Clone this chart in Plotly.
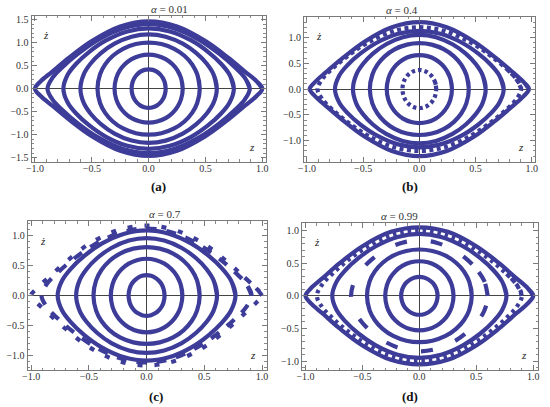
import plotly.graph_objects as go

# ---------------- data (first-quadrant points of each orbit) -------------
TITLES = ["0.01", "0.4", "0.7", "0.99"]
CAPTIONS = ["(a)", "(b)", "(c)", "(d)"]

# panel (a) alpha = 0.01
A_Z = [
    [0.15, 0.1425, 0.1275, 0.105, 0.075, 0.0375, 0.0],
    [0.30, 0.285, 0.255, 0.21, 0.15, 0.075, 0.0],
    [0.45, 0.4275, 0.3825, 0.315, 0.225, 0.1125, 0.0],
    [0.60, 0.57, 0.51, 0.42, 0.30, 0.15, 0.0],
    [0.75, 0.7125, 0.6375, 0.525, 0.375, 0.1875, 0.0],
    [0.89, 0.8455, 0.7565, 0.623, 0.445, 0.2225, 0.0],
    [1.00, 0.95, 0.85, 0.70, 0.50, 0.25, 0.0],
]
A_ZD = [
    [0.0, 0.131, 0.221, 0.300, 0.364, 0.407, 0.42],
    [0.0, 0.231, 0.39, 0.528, 0.641, 0.716, 0.74],
    [0.0, 0.312, 0.527, 0.714, 0.866, 0.968, 1.0],
    [0.0, 0.316, 0.545, 0.771, 0.977, 1.129, 1.18],
    [0.0, 0.301, 0.541, 0.795, 1.047, 1.243, 1.31],
    [0.0, 0.238, 0.47, 0.755, 1.06, 1.313, 1.40],
    [0.0, 0.16, 0.365, 0.672, 1.032, 1.349, 1.46],
]

# panel (b) alpha = 0.4
B_Z = [
    [0.15, 0.1425, 0.1275, 0.105, 0.075, 0.0375, 0.0],
    [0.29, 0.2755, 0.2465, 0.203, 0.145, 0.0725, 0.0],
    [0.44, 0.418, 0.374, 0.308, 0.22, 0.11, 0.0],
    [0.59, 0.5605, 0.5015, 0.413, 0.295, 0.1475, 0.0],
    [0.75, 0.7125, 0.6375, 0.525, 0.375, 0.1875, 0.0],
    [0.905, 0.86, 0.769, 0.6335, 0.4525, 0.226, 0.0],
    [0.975, 0.926, 0.829, 0.6825, 0.4875, 0.244, 0.0],
]
B_ZD = [
    [0.0, 0.115, 0.195, 0.264, 0.32, 0.358, 0.37],
    [0.0, 0.206, 0.348, 0.471, 0.572, 0.639, 0.66],
    [0.0, 0.278, 0.469, 0.635, 0.771, 0.862, 0.89],
    [0.0, 0.281, 0.485, 0.686, 0.869, 1.005, 1.05],
    [0.0, 0.26, 0.467, 0.686, 0.903, 1.072, 1.13],
    [0.0, 0.204, 0.403, 0.647, 0.908, 1.126, 1.20],
    [0.0, 0.14, 0.33, 0.6, 0.92, 1.2, 1.30],
]

# panel (c) alpha = 0.7
C_Z = [
    [0.156, 0.148, 0.133, 0.109, 0.078, 0.039, 0.0],
    [0.31, 0.2945, 0.2635, 0.217, 0.155, 0.0775, 0.0],
    [0.46, 0.437, 0.391, 0.322, 0.23, 0.115, 0.0],
    [0.61, 0.5795, 0.5185, 0.427, 0.305, 0.1525, 0.0],
    [0.77, 0.7315, 0.6545, 0.539, 0.385, 0.1925, 0.0],
    [0.91, 0.8645, 0.7735, 0.637, 0.455, 0.2275, 0.0],
    [1.00, 0.95, 0.85, 0.70, 0.50, 0.25, 0.0],
]
C_ZD = [
    [0.0, 0.106, 0.179, 0.243, 0.294, 0.329, 0.34],
    [0.0, 0.192, 0.324, 0.439, 0.533, 0.595, 0.615],
    [0.0, 0.253, 0.427, 0.578, 0.701, 0.784, 0.81],
    [0.0, 0.257, 0.444, 0.627, 0.795, 0.919, 0.96],
    [0.0, 0.251, 0.45, 0.662, 0.871, 1.034, 1.09],
    [0.0, 0.19, 0.376, 0.604, 0.848, 1.051, 1.12],
    [0.0, 0.12, 0.30, 0.56, 0.86, 1.09, 1.17],
]

# panel (d) alpha = 0.99
D_Z = [
    [0.16, 0.152, 0.136, 0.112, 0.08, 0.04, 0.0],
    [0.30, 0.285, 0.255, 0.21, 0.15, 0.075, 0.0],
    [0.46, 0.437, 0.391, 0.322, 0.23, 0.115, 0.0],
    [0.60, 0.57, 0.51, 0.42, 0.30, 0.15, 0.0],
    [0.765, 0.727, 0.650, 0.5355, 0.3825, 0.191, 0.0],
    [0.90, 0.855, 0.765, 0.63, 0.45, 0.225, 0.0],
    [1.00, 0.95, 0.85, 0.70, 0.50, 0.25, 0.0],
]
D_ZD = [
    [0.0, 0.09, 0.153, 0.207, 0.251, 0.281, 0.29],
    [0.0, 0.165, 0.279, 0.378, 0.459, 0.513, 0.53],
    [0.0, 0.222, 0.374, 0.507, 0.615, 0.687, 0.71],
    [0.0, 0.228, 0.393, 0.555, 0.704, 0.813, 0.85],
    [0.0, 0.218, 0.392, 0.577, 0.759, 0.902, 0.95],
    [0.0, 0.17, 0.336, 0.539, 0.757, 0.938, 1.0],
    [0.0, 0.12, 0.27, 0.50, 0.76, 0.98, 1.05],
]

PANEL_Z = [A_Z, B_Z, C_Z, D_Z]
PANEL_ZD = [A_ZD, B_ZD, C_ZD, D_ZD]

# ---------------- styles (separate from the data) -------------
COLOR = "#3d3d99"
LINE_W = 4.2
PANEL_DASH = [
    ["solid"] * 7,
    ["3.5px,3px", "solid", "solid", "solid", "solid", "4px,3.5px", "solid"],
    ["solid"] * 5 + ["10px,10px", "5px,12px"],
    ["solid", "solid", "solid", "12px,24px", "solid", "3.5px,4px", "solid"],
]
# page-pixel boxes of the four frames: left, right, top, bottom
BOXES = [(26, 264, 14, 161), (303, 538, 15, 161), (22, 265, 221, 371), (301, 541, 223, 371)]
XR = [(-1.03, 1.03), (-1.025, 1.03), (-1.03, 1.04), (-1.03, 1.043)]
YR = [(-1.59, 1.58), (-1.41, 1.40), (-1.25, 1.24), (-1.14, 1.11)]
W, H = 550, 407


def closed(zs, zds):
    n = len(zs) - 1
    xs = list(zs) + [-zs[i] for i in range(n - 1, -1, -1)] + [-zs[i] for i in range(1, n + 1)] + [zs[i] for i in range(n - 1, -1, -1)]
    ys = list(zds) + [zds[i] for i in range(n - 1, -1, -1)] + [-zds[i] for i in range(1, n + 1)] + [-zds[i] for i in range(n - 1, -1, -1)]
    # overlap the start so the spline closes smoothly
    return xs + xs[1:3], ys + ys[1:3]


fig = go.Figure()
FONT = "Liberation Serif, DejaVu Serif, serif"
annotations = []
for p in range(4):
    sfx = "" if p == 0 else str(p + 1)
    xa, ya = "x" + sfx, "y" + sfx
    for zs, zds, dash in zip(PANEL_Z[p], PANEL_ZD[p], PANEL_DASH[p]):
        xs, ys = closed(zs, zds)
        fig.add_trace(go.Scatter(x=xs, y=ys, mode="lines", xaxis=xa, yaxis=ya,
                                 line=dict(color=COLOR, width=LINE_W, dash=dash, shape="spline", smoothing=1.0),
                                 hoverinfo="skip", showlegend=False))
    L, R, T, B = BOXES[p]
    common = dict(showline=True, mirror="ticks", linecolor="#7a7a7a", linewidth=1,
                  ticks="inside", ticklen=5, tickcolor="#7a7a7a", tickwidth=1,
                  dtick=0.5, tick0=0, tickformat=".1f", showgrid=False,
                  zeroline=True, zerolinecolor="#444444", zerolinewidth=1,
                  tickfont=dict(family=FONT, size=10, color="#333333"),
                  minor=dict(ticks="inside", ticklen=2.5, dtick=0.1, tick0=0, tickcolor="#8a8a8a", showgrid=False),
                  fixedrange=True)
    fig.layout["xaxis" + sfx] = dict(domain=[L / W, R / W], range=list(XR[p]), anchor=ya,
                                     ticklabelstandoff=-3, **common)
    fig.layout["yaxis" + sfx] = dict(domain=[1 - B / H, 1 - T / H], range=list(YR[p]), anchor=xa, **common)
    cx = (L + R) / 2 / W
    annotations.append(dict(text="<i>α</i> = " + TITLES[p], x=cx, y=1 - (T - 7) / H,
                            xref="paper", yref="paper", showarrow=False, yanchor="middle",
                            font=dict(family=FONT, size=11, color="#333333")))
    annotations.append(dict(text="<b>" + CAPTIONS[p] + "</b>", x=cx, y=1 - (B + 26 - (1 if p < 2 else 0)) / H,
                            xref="paper", yref="paper", showarrow=False, yanchor="middle",
                            font=dict(family=FONT, size=13, color="#111111")))
    annotations.append(dict(text="<i>ż</i>", x=0.042, y=0.925, xref=xa + " domain", yref=ya + " domain",
                            showarrow=False, font=dict(family=FONT, size=11, color="#222222")))
    annotations.append(dict(text="<i>z</i>", x=0.962, y=0.05, xref=xa + " domain", yref=ya + " domain",
                            showarrow=False, font=dict(family=FONT, size=11, color="#222222")))

fig.update_layout(width=W, height=H, autosize=False, margin=dict(l=0, r=0, t=0, b=0),
                  paper_bgcolor="white", plot_bgcolor="white", annotations=annotations)
fig.write_html("out.html", config={"displayModeBar": False},
               post_script="document.body.style.margin='0px';")
